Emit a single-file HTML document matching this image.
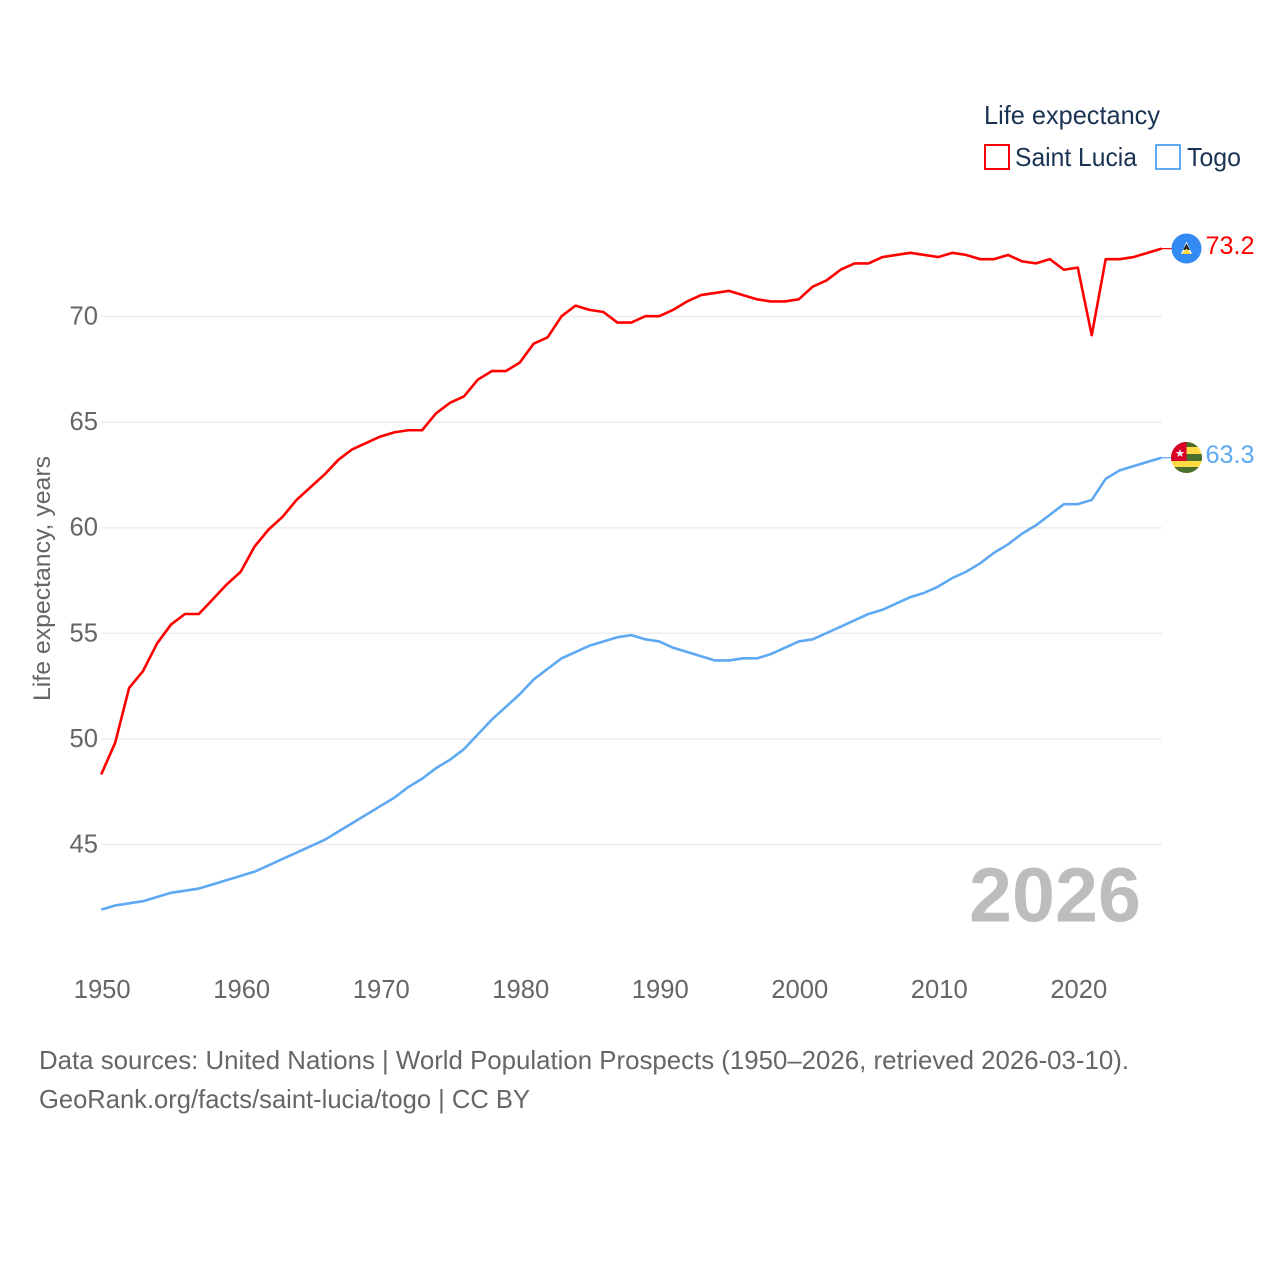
<!DOCTYPE html>
<html lang="en">
<head>
<meta charset="utf-8">
<title>Life expectancy: Saint Lucia and Togo</title>
<style>
html,body{margin:0;padding:0;background:#fff;}
svg{display:block;font-family:"Liberation Sans",sans-serif;}
</style>
</head>
<body>
<svg id="chart" xmlns="http://www.w3.org/2000/svg" width="1280" height="1280" viewBox="0 0 1280 1280">
  <rect width="1280" height="1280" fill="#ffffff"/>
  <g id="grid"></g>
  <g id="yticks"></g>
  <g id="xticks"></g>
  <text transform="translate(50,701) rotate(-90)" font-size="24.5" fill="#666666" textLength="245" lengthAdjust="spacingAndGlyphs">Life expectancy, years</text>
  <text x="969" y="921.5" font-size="77" font-weight="700" fill="#bdbdbd" textLength="172" lengthAdjust="spacingAndGlyphs">2026</text>
  <g id="series"></g>

  <g>
    <text x="984" y="124" font-size="26" fill="#1a3353" textLength="176" lengthAdjust="spacingAndGlyphs">Life expectancy</text>
    <g>
      <rect x="985" y="145" width="24" height="24" fill="#ffffff" stroke="#ff0000" stroke-width="2"/>
      <text x="1015" y="166" font-size="26" fill="#1a3353" textLength="122" lengthAdjust="spacingAndGlyphs">Saint Lucia</text>
    </g>
    <g>
      <rect x="1156" y="145" width="24" height="24" fill="#ffffff" stroke="#5ea9f2" stroke-width="2"/>
      <text x="1187" y="166" font-size="26" fill="#1a3353" textLength="54" lengthAdjust="spacingAndGlyphs">Togo</text>
    </g>
  </g>

  <defs>
    <clipPath id="clip-lucia"><circle cx="1186.5" cy="248.5" r="15"/></clipPath>
    <clipPath id="clip-togo"><circle cx="1186.5" cy="457.5" r="15.5"/></clipPath>
  </defs>
  <g clip-path="url(#clip-lucia)">
    <rect x="1170" y="232" width="34" height="34" fill="#338af3"/>
    <polygon points="1186.5,241.5 1192,254 1181,254" fill="#ffffff"/>
    <polygon points="1186.5,243.5 1190,250 1183,250" fill="#222222"/>
    <polygon points="1186.5,248.5 1191.5,254 1181.5,254" fill="#ffda44"/>
  </g>
  <g clip-path="url(#clip-togo)">
    <rect x="1170" y="441" width="34" height="34" fill="#ffda44"/>
    <rect x="1170" y="441" width="34" height="6" fill="#496e2d"/>
    <rect x="1170" y="454" width="34" height="7" fill="#496e2d"/>
    <rect x="1170" y="467" width="34" height="8" fill="#496e2d"/>
    <rect x="1170" y="441" width="16.5" height="20" fill="#d80027"/>
    <polygon points="1180,449 1181.2,452 1184.3,452 1181.8,454 1182.8,457 1180,455.2 1177.2,457 1178.2,454 1175.7,452 1178.8,452" fill="#f0f0f0"/>
  </g>

  <text x="39" y="1069" font-size="26" fill="#666666" textLength="1090" lengthAdjust="spacingAndGlyphs">Data sources: United Nations | World Population Prospects (1950–2026, retrieved 2026-03-10).</text>
  <text x="39" y="1108" font-size="26" fill="#666666" textLength="491" lengthAdjust="spacingAndGlyphs">GeoRank.org/facts/saint-lucia/togo | CC BY</text>
</svg>

<script>
const years = [1950,1951,1952,1953,1954,1955,1956,1957,1958,1959,1960,1961,1962,1963,1964,1965,1966,1967,1968,1969,1970,1971,1972,1973,1974,1975,1976,1977,1978,1979,1980,1981,1982,1983,1984,1985,1986,1987,1988,1989,1990,1991,1992,1993,1994,1995,1996,1997,1998,1999,2000,2001,2002,2003,2004,2005,2006,2007,2008,2009,2010,2011,2012,2013,2014,2015,2016,2017,2018,2019,2020,2021,2022,2023,2024,2025,2026];
const saintLucia = [48.3,49.8,52.4,53.2,54.5,55.4,55.9,55.9,56.6,57.3,57.9,59.1,59.9,60.5,61.3,61.9,62.5,63.2,63.7,64.0,64.3,64.5,64.6,64.6,65.4,65.9,66.2,67.0,67.4,67.4,67.8,68.7,69.0,70.0,70.5,70.3,70.2,69.7,69.7,70.0,70.0,70.3,70.7,71.0,71.1,71.2,71.0,70.8,70.7,70.7,70.8,71.4,71.7,72.2,72.5,72.5,72.8,72.9,73.0,72.9,72.8,73.0,72.9,72.7,72.7,72.9,72.6,72.5,72.7,72.2,72.3,69.1,72.7,72.7,72.8,73.0,73.2];
const togo = [41.9,42.1,42.2,42.3,42.5,42.7,42.8,42.9,43.1,43.3,43.5,43.7,44.0,44.3,44.6,44.9,45.2,45.6,46.0,46.4,46.8,47.2,47.7,48.1,48.6,49.0,49.5,50.2,50.9,51.5,52.1,52.8,53.3,53.8,54.1,54.4,54.6,54.8,54.9,54.7,54.6,54.3,54.1,53.9,53.7,53.7,53.8,53.8,54.0,54.3,54.6,54.7,55.0,55.3,55.6,55.9,56.1,56.4,56.7,56.9,57.2,57.6,57.9,58.3,58.8,59.2,59.7,60.1,60.6,61.1,61.1,61.3,62.3,62.7,62.9,63.1,63.3];
const yTickValues = [45,50,55,60,65,70];
const xTickValues = [1950,1960,1970,1980,1990,2000,2010,2020];

const NS = 'http://www.w3.org/2000/svg';
const xScale = function (year) { return 101.2 + (year - 1950) * (1060.3 / 76); };
const yScale = function (value) { return 316.2 + (70 - value) * 21.12; };

function svgEl(tag, attrs, text) {
  const el = document.createElementNS(NS, tag);
  Object.keys(attrs).forEach(function (k) { el.setAttribute(k, attrs[k]); });
  if (text !== undefined) el.textContent = text;
  return el;
}

const gridGroup = document.getElementById('grid');
const yTickGroup = document.getElementById('yticks');
yTickValues.forEach(function (v) {
  const line = svgEl('line', { x1: 101, x2: 1162, y1: yScale(v) + 0.3, y2: yScale(v) + 0.3, stroke: '#eeeeee', 'stroke-width': 1.5 });
  
  
  gridGroup.appendChild(line);
  const label = svgEl('text', { x: 98, y: yScale(v) + 8.3, 'text-anchor': 'end', 'font-size': 25.6, fill: '#666666' }, String(v));
  
  
  yTickGroup.appendChild(label);
});

const xTickGroup = document.getElementById('xticks');
xTickValues.forEach(function (year) {
  const label = svgEl('text', { x: xScale(year) + 1, y: 998, 'text-anchor': 'middle', 'font-size': 25.6, fill: '#666666' }, String(year));
  
  
  xTickGroup.appendChild(label);
});

function linePoints(values) {
  return values.map(function (v, i) { return xScale(years[i]).toFixed(2) + ',' + yScale(v).toFixed(2); }).join(' ');
}

const seriesGroup = document.getElementById('series');

const luciaLine = svgEl('polyline', { points: linePoints(saintLucia), fill: 'none', stroke: '#ff0000', 'stroke-width': 2.6, 'stroke-linejoin': 'round' });


seriesGroup.appendChild(luciaLine);

const togoLine = svgEl('polyline', { points: linePoints(togo), fill: 'none', stroke: '#5ea9f2', 'stroke-width': 2.6, 'stroke-linejoin': 'round' });


seriesGroup.appendChild(togoLine);

const lastIndex = years.length - 1;
const luciaLast = saintLucia[lastIndex];
const togoLast = togo[lastIndex];

const luciaLeader = svgEl('line', { x1: xScale(years[lastIndex]), x2: 1172, y1: yScale(luciaLast), y2: yScale(luciaLast), stroke: '#ff0000', 'stroke-width': 1.2 });


seriesGroup.appendChild(luciaLeader);

const togoLeader = svgEl('line', { x1: xScale(years[lastIndex]), x2: 1172, y1: yScale(togoLast), y2: yScale(togoLast), stroke: '#5ea9f2', 'stroke-width': 1.2 });


seriesGroup.appendChild(togoLeader);

const luciaValue = svgEl('text', { x: 1205.5, y: yScale(luciaLast) + 5.5, 'font-size': 25.2, fill: '#ff0000' }, luciaLast.toFixed(1));


seriesGroup.appendChild(luciaValue);

const togoValue = svgEl('text', { x: 1205.5, y: yScale(togoLast) + 5.5, 'font-size': 25.2, fill: '#5ea9f2' }, togoLast.toFixed(1));


seriesGroup.appendChild(togoValue);
</script>
</body>
</html>
